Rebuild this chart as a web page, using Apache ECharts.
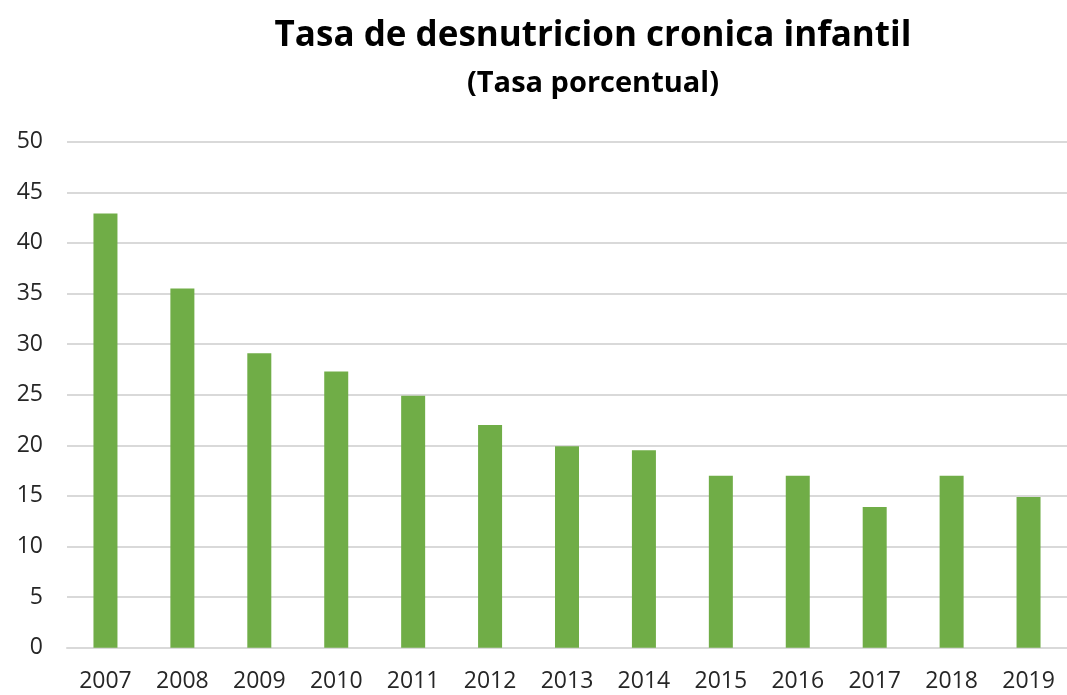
<!DOCTYPE html>
<html>
<head>
<meta charset="utf-8">
<script src="https://cdn.jsdelivr.net/npm/echarts@6/dist/echarts.min.js"></script>
<style>html,body{margin:0;padding:0;background:#fff}#c{width:1067px;height:695px}</style>
</head>
<body>
<div id="c"></div>
<script>
const years = ['2007','2008','2009','2010','2011','2012','2013','2014','2015','2016','2017','2018','2019'];
const rates = [42.9, 35.5, 29.1, 27.3, 24.9, 22.0, 19.9, 19.5, 17.0, 17.0, 13.9, 17.0, 14.9];
const yTicks = [0, 5, 10, 15, 20, 25, 30, 35, 40, 45, 50];

const chart = echarts.init(document.getElementById('c'));
chart.setOption({
  animation: false,
  backgroundColor: '#fff',
  title: [
    { text: 'Tasa de desnutricion cronica infantil', left: 588, top: 14, textAlign: 'center',
      textStyle: { fontFamily: 'Open Sans', fontWeight: 'bold', fontSize: 35, color: '#000' } },
    { text: '(Tasa porcentual)', left: 588, top: 64, textAlign: 'center',
      textStyle: { fontFamily: 'Open Sans', fontWeight: 'bold', fontSize: 29, color: '#000' } }
  ],
  grid: { left: 67, top: 141.7, width: 1007, height: 506, containLabel: false },
  xAxis: {
    type: 'category', data: years,
    axisLine: { lineStyle: { color: '#d9d9d9', width: 2 } },
    axisTick: { show: false },
    axisLabel: { fontFamily: 'Open Sans', fontSize: 23, color: '#262626', margin: 22 }
  },
  yAxis: {
    type: 'value', min: yTicks[0], max: yTicks[yTicks.length - 1], interval: 5,
    axisLine: { show: false }, axisTick: { show: false },
    splitLine: { lineStyle: { color: '#d9d9d9', width: 2 } },
    axisLabel: { fontFamily: 'Open Sans', fontSize: 23, color: '#262626', margin: 24 }
  },
  series: [{
    type: 'bar', data: rates, barWidth: 24,
    itemStyle: { color: '#70ad47' }
  }]
});
</script>
</body>
</html>
